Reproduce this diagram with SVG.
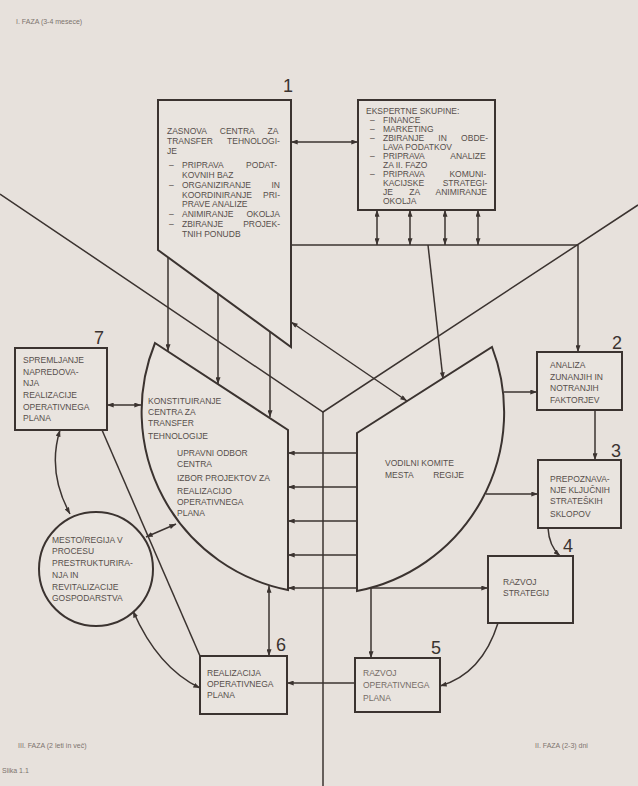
<svg xmlns="http://www.w3.org/2000/svg" width="638" height="786" viewBox="0 0 638 786">
<defs>
<style>
.bg{fill:#e7e1dc}
.box{fill:#e9e4df;stroke:#3b3330;stroke-width:2}
.ln{fill:none;stroke:#3b3330;stroke-width:1.5}
.u{font-family:"Liberation Sans",Arial,sans-serif;font-size:8.5px;fill:#574f4b}
.s{font-family:"Liberation Sans",Arial,sans-serif;font-size:7px;fill:#7d746e}
.n{font-family:"Liberation Sans",Arial,sans-serif;font-size:18px;fill:#3b3330}
.lt{fill:#756c66}
</style>
<marker id="a" viewBox="0 0 8 6" refX="8" refY="3" markerWidth="7" markerHeight="5" markerUnits="userSpaceOnUse" orient="auto-start-reverse">
<path d="M0,0 L8,3 L0,6 Z" fill="#3b3330"/>
</marker>
</defs>
<rect class="bg" x="0" y="0" width="638" height="786"/>

<text class="s" x="16" y="24">I. FAZA (3-4 mesece)</text>
<text class="s" x="18" y="748">III. FAZA (2 leti in več)</text>
<text class="s" x="535" y="748">II. FAZA (2-3) dni</text>
<text class="s" x="2" y="773">Slika 1.1</text>

<g id="connectors">
<path class="ln" d="M0,194 L323,412 L638,205"/>
<path class="ln" d="M323,412 V786"/>
<path class="ln" d="M291,142 H358" marker-start="url(#a)" marker-end="url(#a)"/>
<path class="ln" d="M377,210 V245" marker-start="url(#a)" marker-end="url(#a)"/>
<path class="ln" d="M410,210 V245" marker-start="url(#a)" marker-end="url(#a)"/>
<path class="ln" d="M445,210 V245" marker-start="url(#a)" marker-end="url(#a)"/>
<path class="ln" d="M478,210 V245" marker-start="url(#a)" marker-end="url(#a)"/>
<path class="ln" d="M291,245 H578"/>
<path class="ln" d="M578,245 V352" marker-end="url(#a)"/>
<path class="ln" d="M428,245 L443,379" marker-end="url(#a)"/>
<path class="ln" d="M291,322 L407,401" marker-start="url(#a)" marker-end="url(#a)"/>
<path class="ln" d="M168,257 V351" marker-end="url(#a)"/>
<path class="ln" d="M218,294 V384" marker-end="url(#a)"/>
<path class="ln" d="M270,332 V417" marker-end="url(#a)"/>
<path class="ln" d="M504,392 H537" marker-end="url(#a)"/>
<path class="ln" d="M486,494 H538" marker-end="url(#a)"/>
<path class="ln" d="M595,410 V460" marker-end="url(#a)"/>
<path class="ln" d="M548,528 Q549,546 560,556" marker-end="url(#a)"/>
<path class="ln" d="M357,453 H288" marker-end="url(#a)"/>
<path class="ln" d="M357,487 H288" marker-end="url(#a)"/>
<path class="ln" d="M357,521 H288" marker-end="url(#a)"/>
<path class="ln" d="M357,555 H288" marker-end="url(#a)"/>
<path class="ln" d="M288,588 H488" marker-start="url(#a)" marker-end="url(#a)"/>
<path class="ln" d="M498,623 Q482,674 440,686" marker-end="url(#a)"/>
<path class="ln" d="M371,588 V658" marker-end="url(#a)"/>
<path class="ln" d="M355,683 H287" marker-end="url(#a)"/>
<path class="ln" d="M269,586 V656" marker-start="url(#a)" marker-end="url(#a)"/>
<path class="ln" d="M107,405 H141" marker-start="url(#a)" marker-end="url(#a)"/>
<path class="ln" d="M60,430 Q47,472 70,514" marker-start="url(#a)" marker-end="url(#a)"/>
<path class="ln" d="M146,537 L176,524" marker-start="url(#a)" marker-end="url(#a)"/>
<path class="ln" d="M133,611 Q158,668 200,688" marker-start="url(#a)" marker-end="url(#a)"/>
<path class="ln" d="M102,430 L200,656"/>
</g>

<g id="n1">
<path class="box" d="M158,100 H291 V347 L158,250 Z"/>
<text class="n" x="283" y="92">1</text>
<text class="u" x="167" y="134" style="word-spacing:10.9px">ZASNOVA CENTRA ZA</text>
<text class="u" x="167" y="144" style="word-spacing:12px">TRANSFER TEHNOLOGI-</text>
<text class="u" x="167" y="154">JE</text>
<text class="u" x="169" y="168">–</text>
<text class="u" x="182" y="168" style="word-spacing:20.5px">PRIPRAVA PODAT-</text>
<text class="u" x="182" y="178">KOVNIH BAZ</text>
<text class="u" x="169" y="188">–</text>
<text class="u" x="182" y="188" style="word-spacing:18.2px">ORGANIZIRANJE IN</text>
<text class="u" x="182" y="198" style="word-spacing:8.7px">KOORDINIRANJE PRI-</text>
<text class="u" x="182" y="207">PRAVE ANALIZE</text>
<text class="u" x="169" y="217">–</text>
<text class="u" x="182" y="217" style="word-spacing:10.6px">ANIMIRANJE OKOLJA</text>
<text class="u" x="169" y="227">–</text>
<text class="u" x="182" y="227" style="word-spacing:17.7px">ZBIRANJE PROJEK-</text>
<text class="u" x="182" y="237">TNIH PONUDB</text>
</g>

<g id="ekspertne">
<rect class="box" x="358" y="100" width="137" height="110"/>
<text class="u" x="366" y="114">EKSPERTNE SKUPINE:</text>
<text class="u" x="370" y="123">–</text>
<text class="u" x="383" y="123">FINANCE</text>
<text class="u" x="370" y="132">–</text>
<text class="u" x="383" y="132">MARKETING</text>
<text class="u" x="370" y="141">–</text>
<text class="u" x="383" y="141" style="word-spacing:11.9px">ZBIRANJE IN OBDE-</text>
<text class="u" x="383" y="150">LAVA PODATKOV</text>
<text class="u" x="370" y="159">–</text>
<text class="u" x="383" y="159" style="word-spacing:24.1px">PRIPRAVA ANALIZE</text>
<text class="u" x="383" y="168">ZA II. FAZO</text>
<text class="u" x="370" y="177">–</text>
<text class="u" x="383" y="177" style="word-spacing:22.8px">PRIPRAVA KOMUNI-</text>
<text class="u" x="383" y="186" style="word-spacing:16.2px">KACIJSKE STRATEGI-</text>
<text class="u" x="383" y="195" style="word-spacing:14px">JE ZA ANIMIRANJE</text>
<text class="u" x="383" y="204">OKOLJA</text>
</g>

<g id="n2">
<rect class="box" x="537" y="352" width="85" height="58"/>
<text class="n" x="612" y="349">2</text>
<text class="u" x="550" y="368">ANALIZA</text>
<text class="u" x="550" y="380">ZUNANJIH IN</text>
<text class="u" x="550" y="391">NOTRANJIH</text>
<text class="u" x="550" y="403">FAKTORJEV</text>
</g>

<g id="n3">
<rect class="box" x="538" y="460" width="83" height="68"/>
<text class="n" x="611" y="457">3</text>
<text class="u" x="550" y="482">PREPOZNAVA-</text>
<text class="u" x="550" y="493">NJE KLJUČNIH</text>
<text class="u" x="550" y="504">STRATEŠKIH</text>
<text class="u" x="550" y="517">SKLOPOV</text>
</g>

<g id="n4">
<rect class="box" x="488" y="556" width="85" height="67"/>
<text class="n" x="563" y="552">4</text>
<text class="u" x="503" y="585">RAZVOJ</text>
<text class="u" x="503" y="596">STRATEGIJ</text>
</g>

<g id="n5">
<rect class="box" x="355" y="658" width="85" height="54"/>
<text class="n" x="431" y="654">5</text>
<text class="u lt" x="363" y="676">RAZVOJ</text>
<text class="u lt" x="363" y="688">OPERATIVNEGA</text>
<text class="u lt" x="363" y="701">PLANA</text>
</g>

<g id="n6">
<rect class="box" x="200" y="656" width="87" height="58"/>
<text class="n" x="276" y="651">6</text>
<text class="u" x="207" y="676">REALIZACIJA</text>
<text class="u" x="207" y="687">OPERATIVNEGA</text>
<text class="u" x="207" y="698">PLANA</text>
</g>

<g id="n7">
<rect class="box" x="15" y="348" width="92" height="82"/>
<text class="n" x="94" y="344">7</text>
<text class="u" x="23" y="363">SPREMLJANJE</text>
<text class="u" x="23" y="375">NAPREDOVA-</text>
<text class="u" x="23" y="386">NJA</text>
<text class="u" x="23" y="398">REALIZACIJE</text>
<text class="u" x="23" y="410">OPERATIVNEGA</text>
<text class="u" x="23" y="421">PLANA</text>
</g>

<g id="konstituiranje">
<path class="box" d="M155,343 L288,430 V590 A182,182 0 0 1 155,343 Z"/>
<text class="u" x="148" y="404">KONSTITUIRANJE</text>
<text class="u" x="148" y="415">CENTRA ZA</text>
<text class="u" x="148" y="426">TRANSFER</text>
<text class="u" x="148" y="439">TEHNOLOGIJE</text>
<text class="u" x="177" y="456">UPRAVNI ODBOR</text>
<text class="u" x="177" y="467">CENTRA</text>
<text class="u" x="177" y="481">IZBOR PROJEKTOV ZA</text>
<text class="u" x="177" y="494">REALIZACIJO</text>
<text class="u" x="177" y="505">OPERATIVNEGA</text>
<text class="u" x="177" y="516">PLANA</text>
</g>

<g id="vodilni">
<path class="box" d="M357,433 L492,347 A182,182 0 0 1 357,591 Z"/>
<text class="u" x="385" y="466">VODILNI KOMITE</text>
<text class="u" x="385" y="478" style="word-spacing:17.6px">MESTA REGIJE</text>
</g>

<g id="mesto">
<circle class="box" cx="96" cy="569" r="57"/>
<text class="u" x="52" y="543">MESTO/REGIJA V</text>
<text class="u" x="52" y="554">PROCESU</text>
<text class="u" x="52" y="566">PRESTRUKTURIRA-</text>
<text class="u" x="52" y="578">NJA IN</text>
<text class="u" x="52" y="590">REVITALIZACIJE</text>
<text class="u" x="52" y="601">GOSPODARSTVA</text>
</g>
</svg>
